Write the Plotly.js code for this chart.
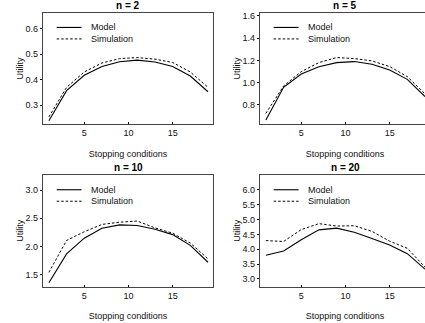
<!DOCTYPE html>
<html><head><meta charset="utf-8">
<script src="https://cdn.plot.ly/plotly-3.0.1.min.js"></script>
<style>html,body{margin:0;padding:0;overflow:hidden;background:#fff}</style>
</head><body><div id="chart"></div>
<script>
const stopping = [1, 3, 5, 7, 9, 11, 13, 15, 17, 19];
const panelTitles = ["n = 2", "n = 5", "n = 10", "n = 20"];
const model2 = [0.240, 0.357, 0.417, 0.451, 0.470, 0.476, 0.469, 0.451, 0.414, 0.353];
const sim2   = [0.255, 0.370, 0.430, 0.465, 0.482, 0.486, 0.480, 0.467, 0.430, 0.370];
const model5 = [0.665, 0.958, 1.078, 1.143, 1.180, 1.189, 1.165, 1.114, 1.030, 0.875];
const sim5   = [0.725, 0.970, 1.099, 1.180, 1.225, 1.216, 1.195, 1.144, 1.054, 0.900];
const model10 = [1.358, 1.869, 2.147, 2.324, 2.383, 2.370, 2.305, 2.210, 2.020, 1.720];
const sim10   = [1.540, 2.106, 2.260, 2.390, 2.430, 2.450, 2.330, 2.235, 2.060, 1.780];
const model20 = [3.80, 3.94, 4.32, 4.65, 4.71, 4.57, 4.36, 4.14, 3.85, 3.33];
const sim20   = [4.29, 4.26, 4.66, 4.86, 4.78, 4.79, 4.60, 4.27, 4.03, 3.40];
const seriesNames = ["Model", "Simulation"];
const yRanges = [[0.226, 0.661], [0.627, 1.627], [1.287, 3.266], [2.74, 6.495]];
const yTickVals = [[0.3, 0.4, 0.5, 0.6], [0.8, 1.0, 1.2, 1.4, 1.6], [1.5, 2.0, 2.5, 3.0], [3.0, 3.5, 4.0, 4.5, 5.0, 5.5, 6.0]];
const yTickText = [["0.3","0.4","0.5","0.6"], ["0.8","1.0","1.2","1.4","1.6"], ["1.5","2.0","2.5","3.0"], ["3.0","3.5","4.0","4.5","5.0","5.5","6.0"]];
const xTickVals = [5, 10, 15];

const W = 431, H = 323;
const FONT = "Liberation Sans, Arial, Helvetica, sans-serif";
const models = [model2, model5, model10, model20];
const sims = [sim2, sim5, sim10, sim20];
// panel pixel boxes [left, right, top, bottom]
const boxes = [[42.7, 213.3, 12.7, 124.3], [259.7, 430.3, 12.7, 124.3], [42.7, 213.3, 175, 286.7], [259.7, 430.3, 175, 286.7]];
const titleY = [5.5, 5.5, 167.5, 167.5];

const traces = [];
const layout = {
  width: W, height: H, margin: {l: 0, r: 0, t: 0, b: 0},
  paper_bgcolor: "#fff", plot_bgcolor: "#fff", showlegend: false,
  font: {family: FONT, size: 9, color: "#111"},
  shapes: [], annotations: []
};
for (let i = 0; i < 4; i++) {
  const s = i === 0 ? "" : String(i + 1);
  const b = boxes[i];
  traces.push({x: stopping, y: models[i], name: seriesNames[0], type: "scatter", mode: "lines",
    xaxis: "x" + s, yaxis: "y" + s, line: {color: "#000", width: 1.1}});
  traces.push({x: stopping, y: sims[i], name: seriesNames[1], type: "scatter", mode: "lines",
    xaxis: "x" + s, yaxis: "y" + s, line: {color: "#000", width: 1, dash: "2.5px,2px"}});
  layout["xaxis" + s] = {
    domain: [b[0] / W, b[1] / W], anchor: "y" + s, range: [0.3, 19.6],
    tickvals: xTickVals, ticks: "inside", ticklen: 2, tickcolor: "#000",
    showgrid: false, zeroline: false, showline: true, mirror: true, linecolor: "#444", linewidth: 1,
    tickfont: {family: FONT, size: 9, color: "#111"},
    title: {text: "Stopping conditions", font: {family: FONT, size: 9, color: "#111"}, standoff: 13}
  };
  layout["yaxis" + s] = {
    domain: [1 - b[3] / H, 1 - b[2] / H], anchor: "x" + s, range: yRanges[i],
    tickvals: yTickVals[i], ticktext: yTickText[i], ticks: "outside", ticklen: 2, tickcolor: "#000",
    showgrid: false, zeroline: false, showline: true, mirror: true, linecolor: "#444", linewidth: 1,
    tickfont: {family: FONT, size: 9, color: "#111"},
    title: {text: "Utility", font: {family: FONT, size: 9, color: "#111"}, standoff: 0}
  };
  layout.annotations.push({text: "<b>" + panelTitles[i] + "</b>", xref: "x" + s + " domain", x: 0.5,
    yref: "paper", y: 1 - titleY[i] / H, showarrow: false, xanchor: "center", yanchor: "middle",
    font: {family: FONT, size: 10, color: "#000"}});
  // legend
  const ly = [0.868, 0.765];
  for (let k = 0; k < 2; k++) {
    layout.shapes.push({type: "line", xref: "x" + s + " domain", yref: "y" + s + " domain",
      x0: 0.082, x1: 0.228, y0: ly[k], y1: ly[k],
      line: {color: "#000", width: k === 0 ? 1.1 : 1, dash: k === 0 ? "solid" : "2.5px,2px"}});
    layout.annotations.push({text: seriesNames[k], xref: "x" + s + " domain", yref: "y" + s + " domain",
      x: 0.27, y: ly[k], xanchor: "left", yanchor: "middle", showarrow: false,
      font: {family: FONT, size: 9, color: "#111"}});
  }
}
Plotly.newPlot("chart", traces, layout, {displayModeBar: false, staticPlot: true});
</script></body></html>
